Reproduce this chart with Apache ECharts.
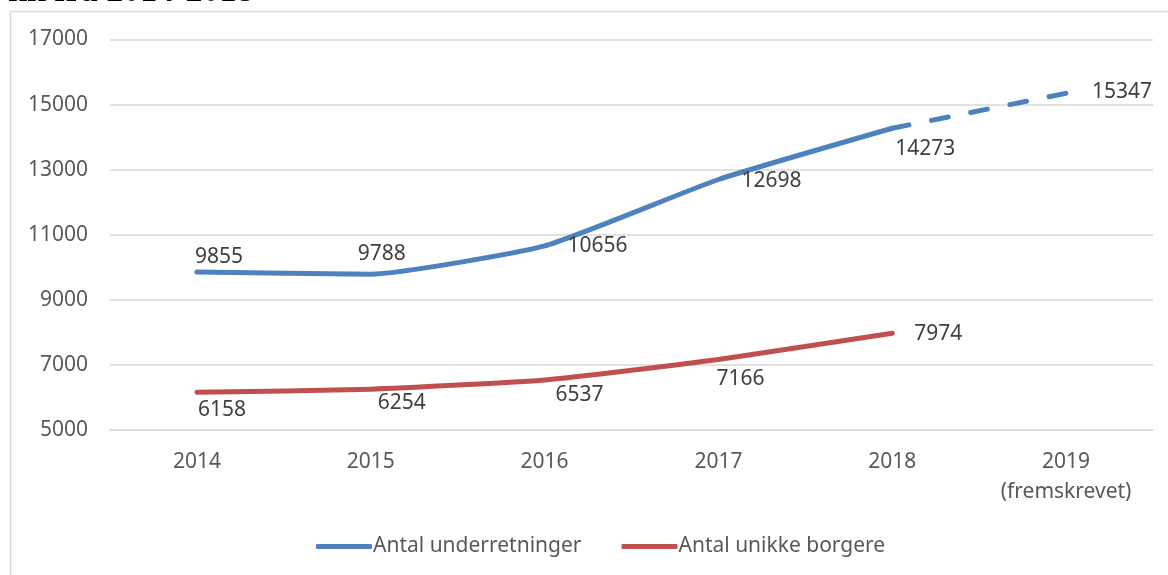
<!DOCTYPE html>
<html>
<head>
<meta charset="utf-8">
<script src="https://cdn.jsdelivr.net/npm/echarts@6/dist/echarts.min.js"></script>
<style>
html,body{margin:0;padding:0;background:#fff;}
#chart{width:1168px;height:575px;}
</style>
</head>
<body>
<div id="chart"></div>
<script>
// ---- data ----
const categories = ['2014', '2015', '2016', '2017', '2018', '2019\n(fremskrevet)'];
const underretninger = [9855, 9788, 10656, 12698, 14273, null];
const underretningerFremskrevet = [null, null, null, null, 14273, 15347];
const unikkeBorgere = [6158, 6254, 6537, 7166, 7974, null];
const yTicks = { min: 5000, max: 17000, interval: 2000 };
const seriesNames = ['Antal underretninger', 'Antal unikke borgere'];
const titleText = 'kk fra 2014-2018';

// ---- label offsets (style only) ----
const blueLabelOffsets = [[22, -15], [11, -20], [53, 0], [53, 2], [33, 21], [56, -1]];
const redLabelOffsets = [[25, 18], [31, 14], [35, 15], [22, 20], [46, 1], null];

const BLUE = '#4F81BD';
const RED = '#C0504D';
const FONT = '"Noto Sans", sans-serif';

function withLabels(values, offsets, showIdx) {
  return values.map((v, i) => {
    if (v === null) return null;
    const show = showIdx ? showIdx(i) : true;
    return {
      value: v,
      label: show && offsets[i] ? { show: true, position: 'inside', offset: offsets[i] } : { show: false }
    };
  });
}

const chart = echarts.init(document.getElementById('chart'), null, { renderer: 'canvas' });
const labelStyle = { color: '#404040', fontSize: 21, fontFamily: FONT };

chart.setOption({
  animation: false,
  graphic: [
    { type: 'rect', shape: { x: 10.5, y: 11.5, width: 1300, height: 700 },
      style: { fill: 'none', stroke: '#D9D9D9', lineWidth: 1.5 }, z: -10 },
    { type: 'text', left: 8, top: -25,
      style: { text: titleText, font: 'bold 34px "Liberation Serif", serif', fill: '#000' } }
  ],
  grid: { left: 110, right: 15, top: 39.5, bottom: 145 },
  legend: {
    data: seriesNames,
    left: 311, top: 531,
    icon: 'roundRect', itemWidth: 56, itemHeight: 5, itemGap: 40,
    textStyle: { color: '#595959', fontSize: 21, fontFamily: FONT, padding: [0, 0, 0, -4] }
  },
  xAxis: {
    type: 'category', data: categories, boundaryGap: true,
    axisLine: { show: true, lineStyle: { color: '#D9D9D9', width: 1.5 } },
    axisTick: { show: false },
    axisLabel: { color: '#595959', fontSize: 21, fontFamily: FONT, lineHeight: 30, margin: 17, interval: 0 }
  },
  yAxis: {
    type: 'value', min: yTicks.min, max: yTicks.max, interval: yTicks.interval,
    axisLine: { show: false }, axisTick: { show: false },
    splitLine: { lineStyle: { color: '#D9D9D9', width: 1.5 } },
    axisLabel: { color: '#595959', fontSize: 21, fontFamily: FONT, margin: 22, formatter: v => String(v) }
  },
  series: [
    {
      name: seriesNames[0], type: 'line', smooth: 0.15,
      data: withLabels(underretninger, blueLabelOffsets),
      symbol: 'circle', symbolSize: 0.1, showSymbol: true,
      lineStyle: { color: BLUE, width: 5, cap: 'round', join: 'round' },
      itemStyle: { color: BLUE },
      label: labelStyle, z: 3
    },
    {
      name: seriesNames[0], type: 'line', smooth: false,
      data: withLabels(underretningerFremskrevet, blueLabelOffsets, i => i === 5),
      symbol: 'circle', symbolSize: 0.1, showSymbol: true,
      lineStyle: { color: BLUE, width: 5, type: [17, 23], cap: 'round' },
      itemStyle: { color: BLUE },
      label: labelStyle, z: 3
    },
    {
      name: seriesNames[1], type: 'line', smooth: 0.15,
      data: withLabels(unikkeBorgere, redLabelOffsets),
      symbol: 'circle', symbolSize: 0.1, showSymbol: true,
      lineStyle: { color: RED, width: 5, cap: 'round', join: 'round' },
      itemStyle: { color: RED },
      label: labelStyle, z: 3
    }
  ]
});
</script>
</body>
</html>
